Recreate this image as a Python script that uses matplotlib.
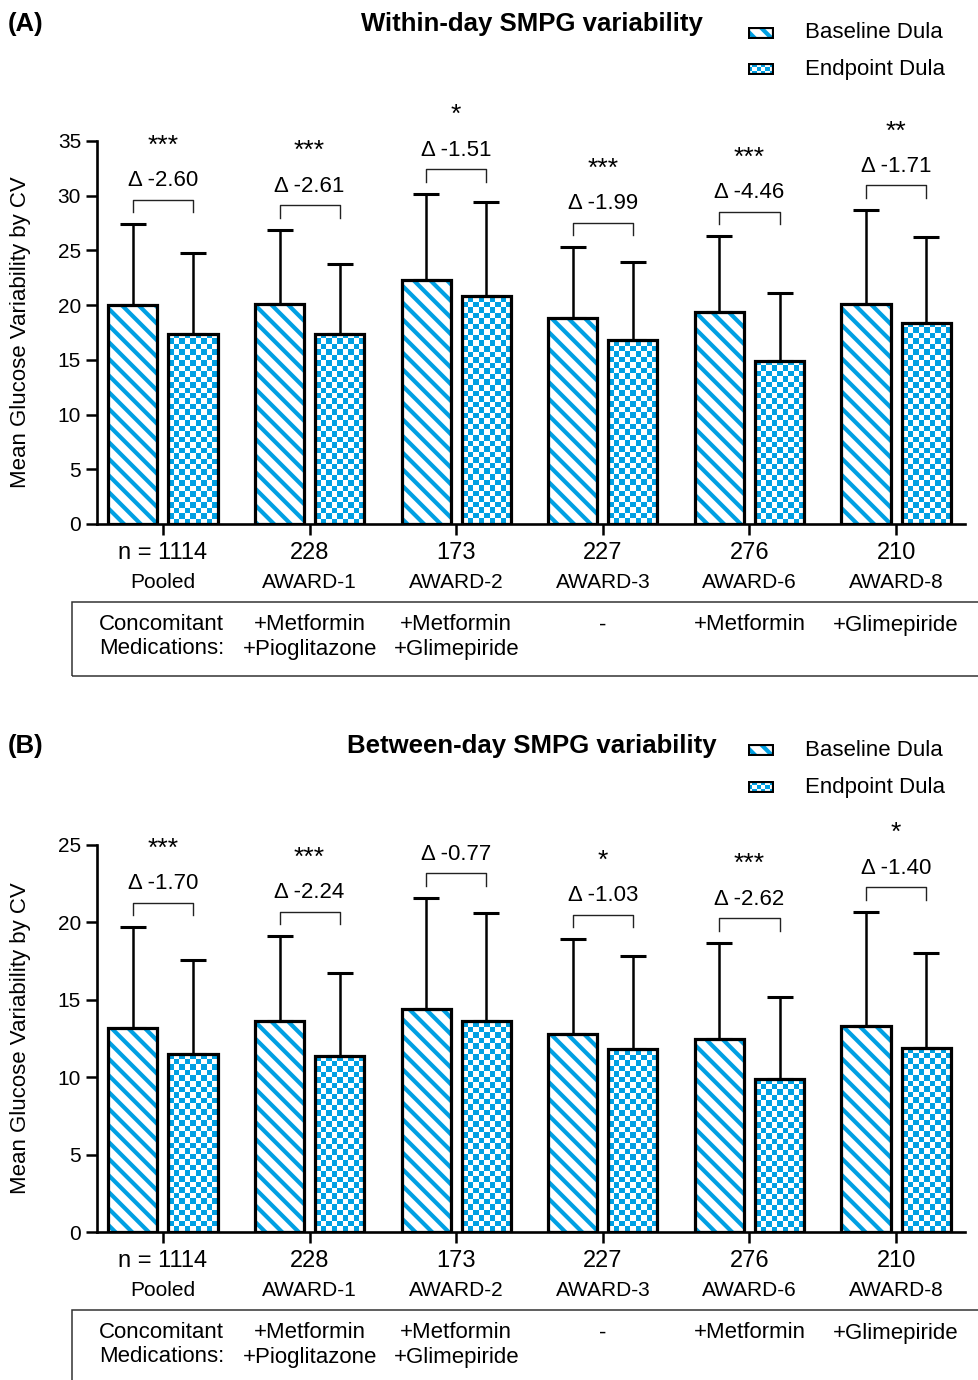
import numpy as np
import matplotlib
matplotlib.use('Agg')
import matplotlib.pyplot as plt
from matplotlib.patches import Rectangle
from matplotlib.colors import ListedColormap

plt.rcParams['font.family'] = ['Liberation Sans', 'DejaVu Sans']
plt.rcParams['hatch.linewidth'] = 3.0

BLUE = '#00a0e3'
W, H = 979, 1380

groups = ['Pooled', 'AWARD-1', 'AWARD-2', 'AWARD-3', 'AWARD-6', 'AWARD-8']
n_pat = ['n = 1114', '228', '173', '227', '276', '210']
meds_line1 = ['+Metformin', '+Metformin', '-', '+Metformin', '+Glimepiride']
meds_line2 = ['+Pioglitazone', '+Glimepiride', '', '', '']

within_base = [20.0, 20.1, 22.3, 18.8, 19.4, 20.1]
within_base_sd = [7.4, 6.8, 7.9, 6.5, 6.9, 8.6]
within_end = [17.4, 17.4, 20.8, 16.8, 14.9, 18.4]
within_end_sd = [7.4, 6.4, 8.6, 7.1, 6.2, 7.8]
within_delta = ['-2.60', '-2.61', '-1.51', '-1.99', '-4.46', '-1.71']
within_sig = ['***', '***', '*', '***', '***', '**']

between_base = [13.2, 13.6, 14.4, 12.8, 12.5, 13.3]
between_base_sd = [6.5, 5.5, 7.2, 6.1, 6.2, 7.4]
between_end = [11.5, 11.4, 13.6, 11.8, 9.9, 11.9]
between_end_sd = [6.1, 5.3, 7.0, 6.0, 5.3, 6.1]
between_delta = ['-1.70', '-2.24', '-0.77', '-1.03', '-2.62', '-1.40']
between_sig = ['***', '***', '', '*', '***', '*']

checker_cmap = ListedColormap(['white', BLUE])


def px_to_fig(x, y):
    return x / W, 1 - y / H


def checker_fill(ax, bar, cell=5.5):
    # checkerboard image clipped to the bar
    x0, y0 = bar.get_x(), bar.get_y()
    x1, y1 = x0 + bar.get_width(), y0 + bar.get_height()
    (p0x, p0y), (p1x, p1y) = ax.transData.transform([(x0, y0), (x1, y1)])
    nx = max(1, int(round((p1x - p0x) / cell)))
    ny = max(1, int(round((p1y - p0y) / cell)))
    ii, jj = np.indices((ny, nx))
    im = ax.imshow((ii + jj) % 2, cmap=checker_cmap, extent=(x0, x1, y0, y1),
                   origin='lower', interpolation='nearest', aspect='auto',
                   zorder=1.5)
    im.set_clip_path(bar)


def draw_panel(ax_rect, ymax, ystep, base, base_sd, end, end_sd, delta, sig,
               letter, title, title_y, legend_y, axis_px):
    ax = fig.add_axes(ax_rect)
    x = np.arange(len(groups))
    off, bw = 0.205, 0.335
    ax.set_xlim(-0.45, 5.47)
    ax.set_ylim(0, ymax)

    ax.bar(x - off, base, bw, facecolor='white', edgecolor=BLUE,
           hatch='\\\\', linewidth=0, zorder=1)
    b2 = ax.bar(x + off, end, bw, facecolor='white', edgecolor='none',
                linewidth=0, zorder=1)
    for bar in b2:
        checker_fill(ax, bar)
    ax.bar(x - off, base, bw, facecolor='none', edgecolor='black', linewidth=2.3, zorder=2)
    ax.bar(x + off, end, bw, facecolor='none', edgecolor='black', linewidth=2.3, zorder=2)
    ax.errorbar(x - off, base, yerr=[np.zeros(len(x)), base_sd], fmt='none',
                ecolor='black', elinewidth=1.8, capsize=9.5, capthick=2.2, zorder=3)
    ax.errorbar(x + off, end, yerr=[np.zeros(len(x)), end_sd], fmt='none',
                ecolor='black', elinewidth=1.8, capsize=9.5, capthick=2.2, zorder=3)
    ax.set_xlim(-0.45, 5.47)
    ax.set_ylim(0, ymax)

    for s in ['top', 'right']:
        ax.spines[s].set_visible(False)
    for s in ['left', 'bottom']:
        ax.spines[s].set_linewidth(1.9)
    ax.set_yticks(np.arange(0, ymax + 0.1, ystep))
    ax.set_xticks(x)
    ax.set_xticklabels([])
    ax.tick_params(axis='both', direction='out', length=8, width=1.8, labelsize=15)
    ax.set_ylabel('Mean Glucose Variability by CV', fontsize=16)
    ax.yaxis.set_label_coords((31 - 97) / 868, 0.5)

    ppu = ax.transData.transform((0, 1))[1] - ax.transData.transform((0, 0))[1]
    for i in range(len(groups)):
        top = max(base[i] + base_sd[i], end[i] + end_sd[i])
        leg0 = top + 12 / ppu
        br = leg0 + 12.5 / ppu
        ax.plot([i - off, i - off, i + off, i + off], [leg0, br, br, leg0],
                color='#222222', linewidth=1.0, clip_on=False)
        dy = br + 19 / ppu
        ax.text(i, dy, '\u0394 ' + delta[i], ha='center', va='center', fontsize=16)
        if sig[i]:
            ax.text(i, dy + 35 / ppu, sig[i], ha='center', va='center', fontsize=19)

    # category labels below the axis
    for i in range(len(groups)):
        gx = fig.transFigure.inverted().transform(ax.transData.transform((i, 0)))[0]
        fig.text(gx, 1 - (axis_px + 29) / H, n_pat[i], ha='center', va='center', fontsize=17)
        fig.text(gx, 1 - (axis_px + 58) / H, groups[i], ha='center', va='center', fontsize=15)
        if i > 0:
            fig.text(gx, 1 - (axis_px + 101) / H, meds_line1[i - 1], ha='center',
                     va='center', fontsize=16)
            if meds_line2[i - 1]:
                fig.text(gx, 1 - (axis_px + 125) / H, meds_line2[i - 1], ha='center',
                         va='center', fontsize=16)
    fig.text(99 / W, 1 - (axis_px + 101) / H, 'Concomitant', ha='left', va='center', fontsize=16)
    fig.text(99 / W, 1 - (axis_px + 125) / H, 'Medications:', ha='left', va='center', fontsize=16)
    box = Rectangle(px_to_fig(72, axis_px + 152), 1.0, 74 / H, transform=fig.transFigure,
                    facecolor='none', edgecolor='#333333', linewidth=1.1)
    fig.patches.append(box)

    # title, panel letter and legend
    fig.text(8 / W, 1 - title_y / H, letter, ha='left', va='center', fontsize=18.5,
             fontweight='bold')
    fig.text(532 / W, 1 - title_y / H, title, ha='center', va='center', fontsize=18.5,
             fontweight='bold')
    for k, (lab, ly) in enumerate(zip(['Baseline Dula', 'Endpoint Dula'], legend_y)):
        sw = fig.add_axes([748 / W, 1 - (ly + 6) / H, 26 / W, 12 / H])
        sw.set_xlim(0, 1)
        sw.set_ylim(0, 1)
        sw.axis('off')
        if k == 0:
            sw.bar(0.5, 1, 1, facecolor='white', edgecolor=BLUE, hatch='\\\\', linewidth=0)
        else:
            pb = sw.bar(0.5, 1, 1, facecolor='white', linewidth=0)[0]
            checker_fill(sw, pb, cell=4)
            sw.set_xlim(0, 1)
            sw.set_ylim(0, 1)
        sw.add_patch(Rectangle((0, 0), 1, 1, facecolor='none', edgecolor='black',
                               linewidth=3.0, zorder=3))
        fig.text(805 / W, 1 - ly / H, lab, ha='left', va='center', fontsize=16)
    return ax


fig = plt.figure(figsize=(W / 100, H / 100), dpi=100)

draw_panel([97 / W, 1 - 524 / H, 868 / W, 383 / H], 35, 5,
           within_base, within_base_sd, within_end, within_end_sd, within_delta, within_sig,
           '(A)', 'Within-day SMPG variability', 24, [33, 69], 524)
draw_panel([97 / W, 1 - 1232 / H, 868 / W, 387 / H], 25, 5,
           between_base, between_base_sd, between_end, between_end_sd, between_delta,
           between_sig, '(B)', 'Between-day SMPG variability', 746, [750, 787], 1232)

fig.savefig('out.png', dpi=100)
